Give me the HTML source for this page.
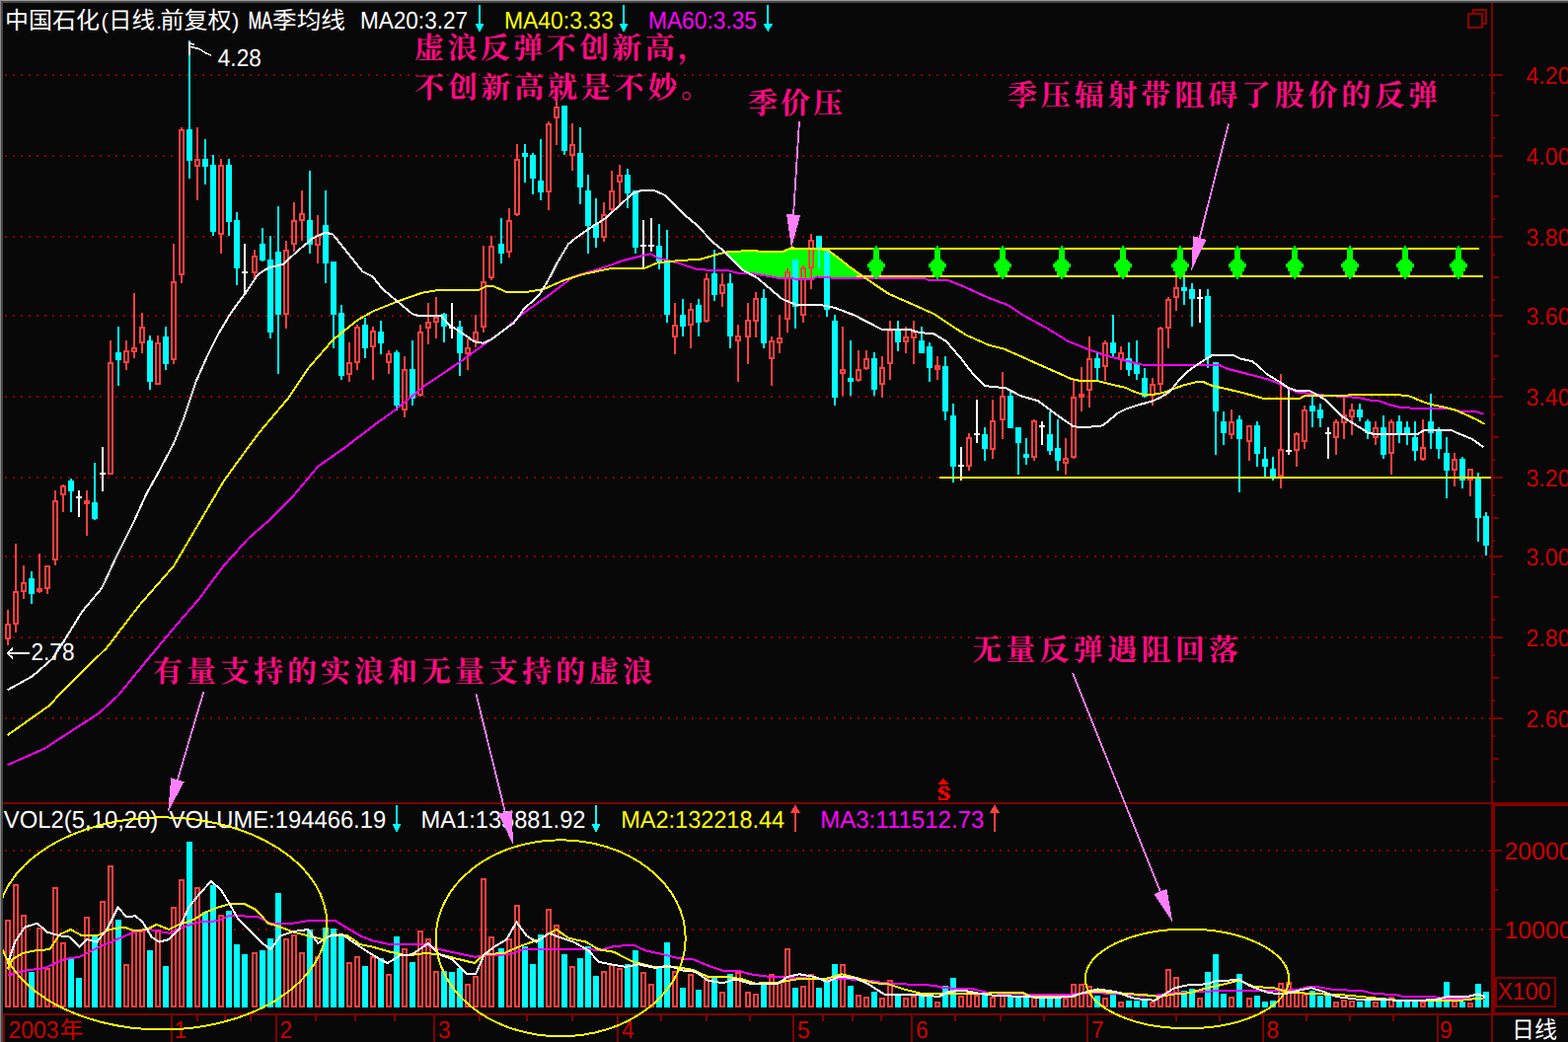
<!DOCTYPE html>
<html><head><meta charset="utf-8"><title>chart</title>
<style>html,body{margin:0;padding:0;background:#080808;overflow:hidden}svg{display:block}text{white-space:pre}</style>
</head><body><svg width="1589" height="1056" viewBox="0 0 1589 1056" shape-rendering="crispEdges" text-rendering="geometricPrecision"><rect width="1589" height="1056" fill="#080808"/>
<line x1="5" y1="76" x2="1511.1" y2="76" stroke="#8a0000" stroke-width="2" stroke-dasharray="2 6"/>
<line x1="5" y1="158" x2="1511.1" y2="158" stroke="#8a0000" stroke-width="2" stroke-dasharray="2 6"/>
<line x1="5" y1="240" x2="1511.1" y2="240" stroke="#8a0000" stroke-width="2" stroke-dasharray="2 6"/>
<line x1="5" y1="320" x2="1511.1" y2="320" stroke="#8a0000" stroke-width="2" stroke-dasharray="2 6"/>
<line x1="5" y1="402" x2="1511.1" y2="402" stroke="#8a0000" stroke-width="2" stroke-dasharray="2 6"/>
<line x1="5" y1="484" x2="1511.1" y2="484" stroke="#8a0000" stroke-width="2" stroke-dasharray="2 6"/>
<line x1="5" y1="564" x2="1511.1" y2="564" stroke="#8a0000" stroke-width="2" stroke-dasharray="2 6"/>
<line x1="5" y1="646" x2="1511.1" y2="646" stroke="#8a0000" stroke-width="2" stroke-dasharray="2 6"/>
<line x1="5" y1="728" x2="1511.1" y2="728" stroke="#8a0000" stroke-width="2" stroke-dasharray="2 6"/>
<line x1="5" y1="862.3" x2="1511.1" y2="862.3" stroke="#8a0000" stroke-width="2" stroke-dasharray="2 6"/>
<line x1="5" y1="942.2" x2="1511.1" y2="942.2" stroke="#8a0000" stroke-width="2" stroke-dasharray="2 6"/>
<path d="M29 984.8h6V1021.0h-6zM69 971h6V1021.0h-6zM77 991.1h6V1021.0h-6zM93 947.1h6V1021.0h-6zM117 931.5h6V1021.0h-6zM149 963.4h6V1021.0h-6zM165 979.3h6V1021.0h-6zM189 853.2h6V1021.0h-6zM205 924.4h6V1021.0h-6zM213 896.7h6V1021.0h-6zM229 923.2h6V1021.0h-6zM237 957.1h6V1021.0h-6zM245 967.2h6V1021.0h-6zM263 963.4h6V1021.0h-6zM271 950.8h6V1021.0h-6zM279 905h6V1021.0h-6zM311 942h6V1021.0h-6zM327 939.5h6V1021.0h-6zM335 941.3h6V1021.0h-6zM343 947.6h6V1021.0h-6zM367 979.3h6V1021.0h-6zM383 971h6V1021.0h-6zM399 949.1h6V1021.0h-6zM415 975.3h6V1021.0h-6zM447 983.6h6V1021.0h-6zM455 984.8h6V1021.0h-6zM463 981.1h6V1021.0h-6zM505 961.4h6V1021.0h-6zM529 959.2h6V1021.0h-6zM537 977.3h6V1021.0h-6zM545 947.1h6V1021.0h-6zM569 967.2h6V1021.0h-6zM585 971h6V1021.0h-6zM593 959.2h6V1021.0h-6zM601 989.4h6V1021.0h-6zM633 977.3h6V1021.0h-6zM641 963.4h6V1021.0h-6zM665 981.1h6V1021.0h-6zM673 955.1h6V1021.0h-6zM689 1001.2h6V1021.0h-6zM705 1003.2h6V1021.0h-6zM721 991.1h6V1021.0h-6zM737 987.3h6V1021.0h-6zM771 997.4h6V1021.0h-6zM803 1001.2h6V1021.0h-6zM827 1001.2h6V1021.0h-6zM835 991.1h6V1021.0h-6zM843 977.3h6V1021.0h-6zM859 998.7h6V1021.0h-6zM883 1005h6V1021.0h-6zM907 1008.7h6V1021.0h-6zM931 1008.7h6V1021.0h-6zM939 1010h6V1021.0h-6zM955 999.2h6V1021.0h-6zM963 991.1h6V1021.0h-6zM995 1005h6V1021.0h-6zM1021 1008.7h6V1021.0h-6zM1029 1008.7h6V1021.0h-6zM1037 1010h6V1021.0h-6zM1053 1011.3h6V1021.0h-6zM1061 1011.3h6V1021.0h-6zM1069 1011.3h6V1021.0h-6zM1109 1008.7h6V1021.0h-6zM1125 1007.5h6V1021.0h-6zM1141 1013.8h6V1021.0h-6zM1149 1013.8h6V1021.0h-6zM1157 1012.5h6V1021.0h-6zM1197 1003.7h6V1021.0h-6zM1205 1002h6V1021.0h-6zM1221 984.8h6V1021.0h-6zM1229 967.2h6V1021.0h-6zM1237 1007h6V1021.0h-6zM1253 987.3h6V1021.0h-6zM1271 1008.7h6V1021.0h-6zM1279 1015h6V1021.0h-6zM1287 1013.8h6V1021.0h-6zM1327 1003.7h6V1021.0h-6zM1335 1008.7h6V1021.0h-6zM1343 1008.7h6V1021.0h-6zM1375 1015h6V1021.0h-6zM1383 1012.5h6V1021.0h-6zM1399 1011.3h6V1021.0h-6zM1415 1012.5h6V1021.0h-6zM1423 1013.8h6V1021.0h-6zM1431 1013.8h6V1021.0h-6zM1447 1015h6V1021.0h-6zM1455 1013.8h6V1021.0h-6zM1463 995.4h6V1021.0h-6zM1479 1015h6V1021.0h-6zM1495 997.4h6V1021.0h-6zM1503 1005h6V1021.0h-6z" fill="#00ffff"/>
<path d="M6 932.5h4V1020.0h-4zM14 896.5h4V1020.0h-4zM22 928.4h4V1020.0h-4zM38 940.5h4V1020.0h-4zM46 982.1h4V1020.0h-4zM54 900.2h4V1020.0h-4zM62 956.1h4V1020.0h-4zM86 929.9h4V1020.0h-4zM102 914.1h4V1020.0h-4zM110 878.3h4V1020.0h-4zM126 978.3h4V1020.0h-4zM134 943h4V1020.0h-4zM142 944.3h4V1020.0h-4zM158 943h4V1020.0h-4zM174 920.4h4V1020.0h-4zM182 892.2h4V1020.0h-4zM198 900.2h4V1020.0h-4zM222 928.4h4V1020.0h-4zM256 966.2h4V1020.0h-4zM288 952.4h4V1020.0h-4zM296 948.1h4V1020.0h-4zM304 966.2h4V1020.0h-4zM320 970.2h4V1020.0h-4zM352 976.3h4V1020.0h-4zM360 970.2h4V1020.0h-4zM376 970.2h4V1020.0h-4zM392 988.3h4V1020.0h-4zM408 962.4h4V1020.0h-4zM424 944.3h4V1020.0h-4zM432 952.4h4V1020.0h-4zM440 984.6h4V1020.0h-4zM472 998.4h4V1020.0h-4zM480 990.4h4V1020.0h-4zM488 890.7h4V1020.0h-4zM496 950.1h4V1020.0h-4zM514 952.4h4V1020.0h-4zM522 918.4h4V1020.0h-4zM554 922.4h4V1020.0h-4zM562 938h4V1020.0h-4zM578 980.3h4V1020.0h-4zM610 984.6h4V1020.0h-4zM618 978.3h4V1020.0h-4zM626 982.1h4V1020.0h-4zM650 986.3h4V1020.0h-4zM658 998.4h4V1020.0h-4zM682 984.6h4V1020.0h-4zM698 988.3h4V1020.0h-4zM714 992.1h4V1020.0h-4zM730 1006h4V1020.0h-4zM746 985.8h4V1020.0h-4zM756 1006h4V1020.0h-4zM764 1008h4V1020.0h-4zM780 988.3h4V1020.0h-4zM788 995.9h4V1020.0h-4zM796 962.4h4V1020.0h-4zM812 999.7h4V1020.0h-4zM820 988.3h4V1020.0h-4zM852 978.3h4V1020.0h-4zM868 1008.5h4V1020.0h-4zM876 1010.5h4V1020.0h-4zM892 1012.3h4V1020.0h-4zM900 994.1h4V1020.0h-4zM916 1012.3h4V1020.0h-4zM924 1009.7h4V1020.0h-4zM948 1016h4V1020.0h-4zM972 1009.7h4V1020.0h-4zM980 1004.7h4V1020.0h-4zM988 1008.5h4V1020.0h-4zM1004 1010.5h4V1020.0h-4zM1014 1008.5h4V1020.0h-4zM1046 1009.7h4V1020.0h-4zM1078 1012.3h4V1020.0h-4zM1086 998.4h4V1020.0h-4zM1094 998.4h4V1020.0h-4zM1102 1000.2h4V1020.0h-4zM1118 1012.3h4V1020.0h-4zM1134 1016h4V1020.0h-4zM1166 1016h4V1020.0h-4zM1174 1009.7h4V1020.0h-4zM1182 982.6h4V1020.0h-4zM1190 990.9h4V1020.0h-4zM1214 1012.3h4V1020.0h-4zM1246 1010.5h4V1020.0h-4zM1264 1012.3h4V1020.0h-4zM1296 997.2h4V1020.0h-4zM1304 996.4h4V1020.0h-4zM1312 1006h4V1020.0h-4zM1320 1008h4V1020.0h-4zM1352 1016h4V1020.0h-4zM1360 1013.5h4V1020.0h-4zM1368 1014.8h4V1020.0h-4zM1392 1016h4V1020.0h-4zM1408 1010.5h4V1020.0h-4zM1440 1016h4V1020.0h-4zM1472 1014.8h4V1020.0h-4zM1488 1017.3h4V1020.0h-4z" fill="none" stroke="#ff4040" stroke-width="2"/>
<polyline points="7.6,988.6 25.2,983.6 45.3,981.1 65.4,972.2 80.6,969.7 100.7,959.7 118.3,952.1 135.9,944.6 151,942 171.2,945.8 186.3,939.5 201.4,934.5 221.5,933.2 231.6,928.2 244.2,928.2 261.8,929.5 274.4,935.7 297,935.7 312.1,933.2 339.8,933.2 352.4,940.8 365,948.3 377.6,953.4 395.1,957.1 430.3,957.1 445.4,962.2 463.1,966 480.7,969.7 493.3,968.5 515.9,967.2 531,962.2 596.5,961.7 606.6,963.4 621.7,959.2 641.8,957.6 654.4,963.4 672,967.2 687.1,971 702.2,972.2 717.3,978.5 732.4,983.6 750,984.3 760.1,987.3 770.1,988.6 780.1,989.9 810.3,991.1 835.5,992.4 860.7,992.4 880.8,993.6 895.9,996.2 916.1,997.4 946.3,998.7 956.3,1001.2 986.6,1002.5 1001.7,1006.2 1036.9,1007.5 1087.2,1007.5 1112.4,1006.2 1137.6,1007.5 1155.1,1008.7 1170.2,1008.7 1190.3,1006.2 1220.6,1005 1240.7,1003.7 1296.1,1003.7 1316.2,1002.5 1326.3,999.9 1333.8,999.9 1348.9,1002.5 1381.7,1004.5 1391.7,1007 1414.4,1008 1421.9,1010 1454.7,1010.5 1464.7,1012.5 1505,1012" fill="none" stroke="#ff00ff" stroke-width="2" stroke-linejoin="round"/>
<polyline points="7.6,982.3 12.6,972.2 22.7,966 35.2,963.4 50.3,962.2 60.4,947.1 71.7,942 83.1,948.3 98.2,948.3 110.8,942 125.9,939.5 135.9,943.3 148.5,942 158.6,937 171.2,942 181.2,937 196.3,932 208.9,924.4 221.5,919.4 234.1,915.6 246.7,915.6 259.3,921.9 271.9,935.7 284.5,939.5 297,944.6 312.1,948.3 327.2,952.1 337.3,947.1 352.4,948.3 365,957.1 377.6,959.7 395.1,964.7 412.7,968.5 430.3,966 445.4,967.2 463.1,971.7 480.7,976 490.8,967.2 510.9,966 528.5,958.4 546.1,952.1 563.8,942 576.3,950.8 594,954.6 606.6,962.2 621.7,964.7 641.8,974.8 661.9,979.8 682.1,979.8 702.2,982.8 717.3,989.9 737.5,989.9 752.6,992.4 767.7,997.4 770.1,996.2 785.2,996.2 807.8,992.4 835.5,992.4 853.1,987.3 868.2,991.1 885.9,996.2 901,997.4 916.1,1002.5 936.2,1007.5 961.4,1007 986.6,1007 1011.7,1006.2 1036.9,1006.2 1044.5,1010 1087.2,1010 1097.3,1006.2 1112.4,1005 1132.6,1006.2 1155.1,1008 1165.2,1008.7 1175.2,1010 1190.3,1007.5 1205.4,1006.2 1223.1,1001.2 1240.7,997.4 1255.8,993.6 1270.9,999.9 1291,1001.2 1303.6,1005 1316.2,1006.2 1341.4,1007.5 1366.6,1008.7 1391.7,1011.3 1416.9,1013.8 1454.7,1013.8 1479.8,1013.8 1492.4,1012.5 1505,1011.3" fill="none" stroke="#ffff00" stroke-width="2" stroke-linejoin="round"/>
<polyline points="7.6,977.3 15.1,954.6 25.2,939.5 37.8,935.7 47.8,944.6 60.4,948.3 70.5,949.6 80.6,959.7 88.1,952.1 98.2,954.6 108.2,942 119.6,919.4 128.4,929.5 137.2,928.2 144.7,934.5 153.6,949.6 161.1,954.6 171.2,952.1 181.2,942 191.3,919.4 201.4,906.8 214,893 224,901.8 231.6,914.3 241.7,932 251.7,942 264.3,954.6 274.4,962.2 284.5,948.3 297,944.1 312.1,942 322.2,955.9 334.8,948.3 347.4,947.1 357.5,954.6 372.6,964.7 385.1,972.2 392.6,976 405.2,968.5 417.8,967.2 434.1,955.9 445.4,967.2 458,972.2 473.1,986.8 482,987.3 490.8,967.2 500.8,959.7 513.4,952.1 523.5,934.5 533.6,948.3 543.6,954.6 556.2,945.8 566.3,949.6 581.4,954.6 596.5,963.4 606.6,974.8 619.1,977.3 634.2,979.8 646.8,977.3 664.5,981.1 677,978.5 692.1,983.6 704.7,984.8 717.3,993.6 732.4,996.2 745,992.4 762.6,997.4 770.1,997.4 787.7,997.4 797.8,989.9 810.3,987.3 825.4,989.9 838,994.9 850.6,989.9 865.7,991.1 878.3,996.2 895.9,1007.5 916.1,1007.5 936.2,1008.7 951.3,1010 961.4,1005 976.5,1003.7 989.1,1006.2 1006.7,1008.7 1036.9,1010 1062.1,1011.3 1084.7,1010 1097.3,1006.2 1112.4,1002.5 1130,1005 1147.7,1011.3 1155.1,1012.5 1170.2,1013.8 1180.3,1007.5 1190.3,1001.2 1205.4,997.9 1223.1,997.4 1233.1,993.6 1245.7,993.6 1255.8,992.4 1265.9,998.7 1275.9,1002.5 1286,1006.2 1301.1,1007.5 1316.2,1003.7 1328.8,1001.2 1341.4,1005 1354,1010 1374.1,1012.5 1391.7,1012.5 1416.9,1013.8 1442.1,1013.8 1457.2,1012.5 1467.2,1010 1487.4,1010 1497.5,1007.5 1505,1010" fill="none" stroke="#ffffff" stroke-width="2" stroke-linejoin="round"/>
<polygon points="736,255.6 737.5,255.2 739,255.1 740.5,255 742,255 743.5,254.9 745,254.8 746.5,254.7 748,254.7 749.5,254.6 751,254.5 752.5,254.4 754,254.3 755.5,254.3 757,254.2 758.5,254.1 760,254 761.5,254 763,253.9 764.5,254.1 766,254.3 767.5,254.5 769,254.7 770.5,254.9 772,255.1 773.5,255.1 775,255.1 776.5,255.1 778,255.1 779.5,255.1 781,255.1 782.5,255.1 784,255.2 785.5,255.2 787,255.2 788.5,255.2 790,255.2 791.5,255.2 793,255.1 794.5,254.4 796,253.8 797.5,253.1 799,252.5 800.5,251.8 802,251.4 803.5,251.5 805,251.5 806.5,251.6 808,251.6 809.5,251.7 811,251.7 812.5,251.8 814,251.8 815.5,251.9 817,252 818.5,252 820,252.1 821.5,252.1 823,252.2 824.5,252.2 826,252.3 827.5,252.3 829,252.4 830.5,252.4 832,252.5 833.5,252.5 835,252.6 836.5,252.6 838,252.7 839.5,253.8 841,254.9 842.5,256 844,257.2 845.5,258.3 847,259.4 848.5,260.5 850,261.7 851.5,262.9 853,264.1 854.5,265.3 856,266.5 857.5,267.7 859,268.9 860.5,270.1 862,271.2 863.5,272.3 865,273.3 866.5,274.4 868,275.4 869.5,276.4 871,277.5 872.5,278.5 874,279.6 875.5,280.6 875.5,281.6 874,281.6 872.5,281.6 871,281.6 869.5,281.6 868,281.6 866.5,281.6 865,281.6 863.5,281.6 862,281.6 860.5,281.6 859,281.6 857.5,281.6 856,281.6 854.5,281.6 853,281.6 851.5,281.6 850,281.6 848.5,281.6 847,281.6 845.5,281.6 844,281.6 842.5,281.6 841,281.4 839.5,281.3 838,281.2 836.5,281.1 835,281 833.5,280.8 832,280.7 830.5,280.6 829,280.5 827.5,280.7 826,281.6 824.5,282.5 823,283.3 821.5,283.3 820,283.3 818.5,283.2 817,283.1 815.5,283 814,282.9 812.5,282.9 811,282.8 809.5,282.7 808,282.6 806.5,282.6 805,282.5 803.5,282.4 802,282.3 800.5,282.3 799,282.2 797.5,282.1 796,282 794.5,281.9 793,281.9 791.5,281.8 790,281.7 788.5,281.6 787,281.5 785.5,281.2 784,280.9 782.5,280.7 781,280.4 779.5,280.1 778,279.8 776.5,279.6 775,279.3 773.5,279 772,278.8 770.5,278.5 769,278.2 767.5,278 766,277.7 764.5,277.4 763,277.1 761.5,276.9 760,276.6 758.5,276.6 757,276.1 755.5,275.3 754,274.5 752.5,273.7 751,272.3 749.5,270.8 748,269.2 746.5,267.6 745,266.1 743.5,264.5 742,262.9 740.5,261.4 739,259.8 737.5,258.2 736,256.7" fill="#00ff00"/>
<path d="M7 617.5h2V631.8h-2zM7 647.7h2V654h-2zM15 550.8h2V599.1h-2zM15 632.6h2V640.6h-2zM23 573.4h2V589.8h-2zM23 599.8h2V606.6h-2zM39 561.3h2V596.1h-2zM39 600.4h2V601.1h-2zM47 572.9h2V573.4h-2zM47 596.6h2V602.4h-2zM55 497.4h2V507.2h-2zM55 568.4h2V572.7h-2zM63 491.1h2V491.6h-2zM63 501.7h2V518.5h-2zM111 345.3h2V367.2h-2zM111 480.5h2V480.5h-2zM127 345.3h2V355.1h-2zM127 367.9h2V374.7h-2zM135 297.2h2V351.6h-2zM135 356.6h2V362.7h-2zM143 317.4h2V331.4h-2zM143 348.3h2V358.4h-2zM159 339.5h2V347.1h-2zM159 390.4h2V390.4h-2zM175 247h2V285.4h-2zM175 364.7h2V368.5h-2zM183 129.4h2V130.7h-2zM183 278.7h2V286.8h-2zM199 129.4h2V161.4h-2zM199 168.5h2V202.9h-2zM223 160.9h2V167.2h-2zM223 238.4h2V256.6h-2zM257 253.3h2V259.1h-2zM257 276.7h2V284.2h-2zM289 243.5h2V253.3h-2zM289 318.6h2V332.7h-2zM297 205h2V223.3h-2zM297 247.7h2V255.3h-2zM305 193.1h2V215.5h-2zM305 223.8h2V244h-2zM321 217.5h2V238.4h-2zM321 248.5h2V266.6h-2zM353 347.1h2V367.2h-2zM353 380.3h2V386.6h-2zM361 329.4h2V330.7h-2zM361 367.9h2V374.7h-2zM377 331.4h2V335h-2zM377 352.1h2V384.8h-2zM393 354.6h2V357.9h-2zM393 367.9h2V378.5h-2zM409 360.9h2V373.5h-2zM409 415.8h2V422.6h-2zM425 329.4h2V335.7h-2zM425 401.2h2V402.4h-2zM433 307.3h2V325.7h-2zM433 332.7h2V348.8h-2zM441 301.2h2V321.1h-2zM441 326.9h2V342.8h-2zM473 342.8h2V351.6h-2zM473 359.1h2V374.7h-2zM481 318.9h2V335.7h-2zM481 345.8h2V352.1h-2zM489 249h2V285.4h-2zM489 332h2V336.5h-2zM497 239.2h2V249.3h-2zM497 282h2V284h-2zM515 211h2V223.1h-2zM515 256.3h2V260.6h-2zM523 145.6h2V161.2h-2zM523 218.1h2V218.6h-2zM555 122.9h2V124.9h-2zM555 194.7h2V213.1h-2zM563 97.8h2V107.8h-2zM563 120.4h2V146.8h-2zM579 124.9h2V145.6h-2zM579 158.2h2V172.8h-2zM611 205.2h2V217.3h-2zM611 240.7h2V245h-2zM619 173.3h2V193.4h-2zM619 212.8h2V213.6h-2zM627 167h2V177.1h-2zM627 185.1h2V208.5h-2zM683 307.3h2V329.4h-2zM683 341.5h2V358.9h-2zM699 307.3h2V313.1h-2zM699 330.2h2V352.8h-2zM715 277.3h2V281.6h-2zM715 326.4h2V326.9h-2zM731 277.3h2V287.9h-2zM731 298h2V310.6h-2zM747 329.4h2V339.5h-2zM747 346.3h2V386.6h-2zM757 307.3h2V323.6h-2zM757 342h2V368.5h-2zM765 296.2h2V301.8h-2zM765 325.7h2V342.1h-2zM781 340.8h2V345.3h-2zM781 364h2V390.6h-2zM789 319.4h2V342.1h-2zM789 348.3h2V358.4h-2zM797 271.6h2V275.3h-2zM797 324.4h2V337h-2zM813 269.1h2V271.1h-2zM813 320.2h2V327h-2zM821 237.1h2V243.1h-2zM821 271.6h2V292.5h-2zM853 331.2h2V373.5h-2zM853 378.6h2V401.2h-2zM869 355.4h2V373.5h-2zM869 386.1h2V387.4h-2zM877 355.4h2V362.9h-2zM877 374h2V375.3h-2zM893 361.4h2V371.5h-2zM893 390.4h2V402.5h-2zM901 325.2h2V333.7h-2zM901 368.5h2V384.8h-2zM917 331.2h2V341.3h-2zM917 346.6h2V358.4h-2zM925 325.2h2V335.8h-2zM925 342.6h2V368.5h-2zM981 439h2V443.3h-2zM981 473h2V476.7h-2zM1005 405h2V425.6h-2zM1005 455.8h2V464.6h-2zM1015 377.3h2V401.2h-2zM1015 425.6h2V444.5h-2zM1047 425.1h2V426.4h-2zM1047 464.1h2V466.7h-2zM1079 443.5h2V463.6h-2zM1079 470.4h2V480.5h-2zM1087 384.8h2V401.7h-2zM1087 464.1h2V464.6h-2zM1095 371.5h2V398.7h-2zM1095 402.7h2V416.8h-2zM1103 341.3h2V362.9h-2zM1103 396.2h2V412.5h-2zM1119 345.3h2V347.1h-2zM1119 372.3h2V386.1h-2zM1135 351.4h2V357.2h-2zM1135 364.7h2V374.8h-2zM1167 383h2V388.5h-2zM1167 401.1h2V410.7h-2zM1175 331.1h2V331.9h-2zM1175 390.3h2V397.3h-2zM1183 301.2h2V302.9h-2zM1183 332.6h2V352.8h-2zM1191 280.3h2V291.1h-2zM1191 301.7h2V314.8h-2zM1247 415h2V426.8h-2zM1247 440.6h2V445.2h-2zM1265 431.3h2V431.3h-2zM1265 448.2h2V467.1h-2zM1297 379h2V455.2h-2zM1297 482.9h2V494.8h-2zM1313 437.6h2V438.9h-2zM1313 456.5h2V472.9h-2zM1321 411.2h2V415h-2zM1321 448.4h2V454.7h-2zM1353 425h2V426.8h-2zM1353 444.4h2V461h-2zM1361 403.1h2V420h-2zM1361 428.8h2V445.2h-2zM1369 409.2h2V415h-2zM1369 422.5h2V440.9h-2zM1393 426.8h2V433.3h-2zM1393 444.4h2V451h-2zM1409 425h2V426.8h-2zM1409 460.3h2V480.9h-2zM1441 425h2V453.2h-2zM1441 466.1h2V466.6h-2zM1473 458.9h2V465.2h-2zM1473 476.9h2V492.9h-2zM1489 475h2V475.2h-2zM1489 486.6h2V502.9h-2zM87 497.4h2V542.5h-2zM85 506.7h6V510.5h-6zM949 361.4h2V384.8h-2zM947 369.7h6V374.8h-6z" fill="#ff4040"/>
<path d="M6 632.8h4V646.7h-4zM14 600.1h4V631.6h-4zM22 590.8h4V598.8h-4zM38 597.1h4V599.4h-4zM46 574.4h4V595.6h-4zM54 508.2h4V567.4h-4zM62 492.6h4V500.7h-4zM110 368.2h4V479.5h-4zM126 356.1h4V366.9h-4zM134 352.6h4V355.6h-4zM142 332.4h4V347.3h-4zM158 348.1h4V389.4h-4zM174 286.4h4V363.7h-4zM182 131.7h4V277.7h-4zM198 162.4h4V167.5h-4zM222 168.2h4V237.4h-4zM256 260.1h4V275.7h-4zM288 254.3h4V317.6h-4zM296 224.3h4V246.7h-4zM304 216.5h4V222.8h-4zM320 239.4h4V247.5h-4zM352 368.2h4V379.3h-4zM360 331.7h4V366.9h-4zM376 336h4V351.1h-4zM392 358.9h4V366.9h-4zM408 374.5h4V414.8h-4zM424 336.7h4V400.2h-4zM432 326.7h4V331.7h-4zM440 322.1h4V325.9h-4zM472 352.6h4V358.1h-4zM480 336.7h4V344.8h-4zM488 286.4h4V331h-4zM496 250.3h4V281h-4zM514 224.1h4V255.3h-4zM522 162.2h4V217.1h-4zM554 125.9h4V193.7h-4zM562 108.8h4V119.4h-4zM578 146.6h4V157.2h-4zM610 218.3h4V239.7h-4zM618 194.4h4V211.8h-4zM626 178.1h4V184.1h-4zM682 330.4h4V340.5h-4zM698 314.1h4V329.2h-4zM714 282.6h4V325.4h-4zM730 288.9h4V297h-4zM746 340.5h4V345.3h-4zM756 324.6h4V341h-4zM764 302.8h4V324.7h-4zM780 346.3h4V363h-4zM788 343.1h4V347.3h-4zM796 276.3h4V323.4h-4zM812 272.1h4V319.2h-4zM820 244.1h4V270.6h-4zM852 374.5h4V377.6h-4zM868 374.5h4V385.1h-4zM876 363.9h4V373h-4zM892 372.5h4V389.4h-4zM900 334.7h4V367.5h-4zM916 342.3h4V345.6h-4zM924 336.8h4V341.6h-4zM980 444.3h4V472h-4zM1004 426.6h4V454.8h-4zM1014 402.2h4V424.6h-4zM1046 427.4h4V463.1h-4zM1078 464.6h4V469.4h-4zM1086 402.7h4V463.1h-4zM1094 399.7h4V401.7h-4zM1102 363.9h4V395.2h-4zM1118 348.1h4V371.3h-4zM1134 358.2h4V363.7h-4zM1166 389.5h4V400.1h-4zM1174 332.9h4V389.3h-4zM1182 303.9h4V331.6h-4zM1190 292.1h4V300.7h-4zM1246 427.8h4V439.6h-4zM1264 432.3h4V447.2h-4zM1296 456.2h4V481.9h-4zM1312 439.9h4V455.5h-4zM1320 416h4V447.4h-4zM1352 427.8h4V443.4h-4zM1360 421h4V427.8h-4zM1368 416h4V421.5h-4zM1392 434.3h4V443.4h-4zM1408 427.8h4V459.3h-4zM1440 454.2h4V465.1h-4zM1472 466.2h4V475.9h-4zM1488 476.2h4V485.6h-4z" fill="none" stroke="#ff4040" stroke-width="2"/>
<path d="M31 579.2h2V612.4h-2zM29 585.5h6V602.4h-6zM71 484.8h2V518.5h-2zM69 486.6h6V498.4h-6zM95 468.9h2V526.8h-2zM93 509.2h6V526.3h-6zM119 331.2h2V390.6h-2zM117 357.1h6V364.7h-6zM151 339.5h2V394.9h-2zM149 345h6V386.6h-6zM167 331.4h2V374.7h-2zM165 340.8h6V368.5h-6zM191 41.3h2V181h-2zM189 130.7h6V162.7h-6zM207 140.8h2V186.6h-2zM205 160.9h6V168.5h-6zM215 157.1h2V238.9h-2zM213 167.2h6V235.2h-6zM231 160.9h2V238.9h-2zM229 167.2h6V224.6h-6zM239 215h2V288.8h-2zM237 223.3h6V272.4h-6zM265 231.4h2V265.4h-2zM263 247h6V264.1h-6zM273 239h2V342.8h-2zM271 262.9h6V337h-6zM281 209.2h2V378.5h-2zM279 255.3h6V318.6h-6zM313 173h2V256.6h-2zM311 223.3h6V247.7h-6zM329 193.1h2V286.8h-2zM327 227.6h6V266.6h-6zM337 265.4h2V352.6h-2zM335 265.4h6V318.6h-6zM345 309.3h2V384.8h-2zM343 316.8h6V380.5h-6zM369 321.9h2V362.7h-2zM367 329.4h6V352.6h-6zM385 325.2h2V358.9h-2zM383 335.7h6V348.3h-6zM401 354.6h2V416.3h-2zM399 357.1h6V410.7h-6zM417 345.3h2V410.7h-2zM415 373.5h6V403.7h-6zM449 316.8h2V347.1h-2zM447 318.1h6V330.7h-6zM465 325.2h2V381h-2zM463 331.2h6V358.4h-6zM507 221.1h2V266.9h-2zM505 246.8h6V256.9h-6zM531 145.6h2V184.6h-2zM529 155.2h6V158.7h-6zM539 155.2h2V197.2h-2zM537 156.9h6V180.8h-6zM547 141.1h2V203h-2zM545 183.3h6V195.2h-6zM571 106.6h2V156.9h-2zM569 107.3h6V152.6h-6zM587 129.2h2V206.8h-2zM585 155.2h6V190.4h-6zM595 177.1h2V256.9h-2zM593 193.4h6V228.7h-6zM603 201h2V250.8h-2zM601 227.4h6V240.7h-6zM635 170.8h2V211h-2zM633 177.1h6V195.9h-6zM643 193.4h2V256.9h-2zM641 193.4h6V250.8h-6zM667 226.9h2V272.7h-2zM665 249.3h6V265.2h-6zM675 233.2h2V326.9h-2zM673 263.4h6V318.6h-6zM691 303h2V340.8h-2zM689 318.6h6V330.7h-6zM707 303h2V340.8h-2zM705 309.3h6V326.9h-6zM723 253.2h2V304.8h-2zM721 277.3h6V298.5h-6zM739 277.3h2V352.8h-2zM737 287.4h6V340.8h-6zM773 292.5h2V352.9h-2zM771 301.8h6V348.3h-6zM805 262.8h2V332.7h-2zM803 263.3h6V310.6h-6zM829 238.8h2V272.8h-2zM827 238.8h6V252.7h-6zM837 251.4h2V320.7h-2zM835 255.2h6V314.4h-6zM845 319.4h2V410.8h-2zM843 325.2h6V402.5h-6zM861 345.3h2V401.2h-2zM859 383.1h6V386.6h-6zM885 357.2h2V401.2h-2zM883 362.9h6V394.9h-6zM909 325.2h2V356.4h-2zM907 333.2h6V347.1h-6zM933 331.2h2V358.4h-2zM931 345.3h6V358.4h-6zM941 347.1h2V386.6h-2zM939 351.4h6V373h-6zM957 361.4h2V426.4h-2zM955 371h6V416.8h-6zM965 409.3h2V488.8h-2zM963 420.8h6V473h-6zM997 433.2h2V466.7h-2zM995 439.5h6V454.8h-6zM1023 396.2h2V434.4h-2zM1021 401.2h6V434.4h-6zM1031 433.4h2V480.5h-2zM1029 433.4h6V448.5h-6zM1039 443.5h2V470.9h-2zM1037 459.6h6V464.1h-6zM1063 416.8h2V460.9h-2zM1061 439.5h6V456.6h-6zM1071 425.1h2V476.7h-2zM1069 453.6h6V466.7h-6zM1111 355.9h2V384.8h-2zM1109 362.9h6V372.8h-6zM1127 319.4h2V360.9h-2zM1125 347.1h6V358.4h-6zM1143 347h2V381h-2zM1141 363.3h6V374.7h-6zM1151 345.2h2V384.7h-2zM1149 368.4h6V378.5h-6zM1159 373.4h2V403.1h-2zM1157 383h6V402.4h-6zM1199 280.3h2V308.5h-2zM1197 291.1h6V294.6h-6zM1207 287.1h2V330.6h-2zM1205 292.9h6V302.9h-6zM1223 292.9h2V372.9h-2zM1221 300.4h6V363.3h-6zM1231 367.1h2V461h-2zM1229 367.1h6V417h-6zM1239 417h2V451h-2zM1237 426.8h6V438.9h-6zM1255 420.7h2V499.3h-2zM1253 425h6V445.2h-6zM1273 426.8h2V472.9h-2zM1271 431.3h6V460.3h-6zM1281 453.2h2V482.9h-2zM1279 465.3h6V472.9h-6zM1289 462.8h2V487.2h-2zM1287 475.4h6V483.7h-6zM1329 401.1h2V432.6h-2zM1327 411.2h6V417h-6zM1337 409.2h2V432.6h-2zM1335 415h6V423.8h-6zM1377 409.2h2V426.8h-2zM1375 415h6V423h-6zM1385 425h2V445.2h-2zM1383 426.8h6V438.9h-6zM1401 420.7h2V464.8h-2zM1399 433.3h6V461h-6zM1417 420.7h2V448.9h-2zM1415 426.8h6V440.9h-6zM1425 426.8h2V451h-2zM1423 433.3h6V440.9h-6zM1433 426.8h2V467.1h-2zM1431 442.6h6V457h-6zM1449 399.1h2V454.7h-2zM1447 426.8h6V438.9h-6zM1457 433.3h2V464.8h-2zM1455 436.9h6V455.2h-6zM1465 443.1h2V504.8h-2zM1463 458.9h6V477.1h-6zM1481 463.3h2V494.8h-2zM1479 465.2h6V486.8h-6zM1497 479h2V548.9h-2zM1495 484.1h6V525h-6zM1505 519h2V562.7h-2zM1503 522.8h6V552.9h-6z" fill="#00ffff"/>
<path d="M79 497.4h2V524.3h-2zM77 503.2h6v2h-6zM103 453.1h2V498.4h-2zM101 478.8h6v2h-6zM247 247h2V298h-2zM245 274.7h6v2h-6zM457 307.3h2V342.8h-2zM455 331h6v2h-6zM651 223.1h2V271h-2zM649 248.3h6v2h-6zM659 221.1h2V255.1h-2zM657 248.3h6v2h-6zM973 453.3h2V486.8h-2zM971 471.2h6v2h-6zM989 405h2V449h-2zM987 439.2h6v2h-6zM1055 427.1h2V450.8h-2zM1053 430.9h6v2h-6zM1215 292.9h2V326.8h-2zM1213 300.7h6v2h-6zM1305 393.6h2V461h-2zM1303 455.5h6v2h-6zM1345 433.3h2V464.8h-2zM1343 437.9h6v2h-6z" fill="#ffffff"/>
<line x1="801" y1="252" x2="1499" y2="252" stroke="#ffff00" stroke-width="2.2"/>
<line x1="868" y1="279.9" x2="1503" y2="279.9" stroke="#ffff00" stroke-width="2.2"/>
<line x1="952" y1="483.8" x2="1512.1" y2="483.8" stroke="#ffff00" stroke-width="2.2"/>
<polyline points="7.6,775.2 45.3,758.6 100.7,722.4 119.6,705 151,666.6 176.2,636.4 201.4,607.4 226.6,573.4 251.7,545.7 271.9,528.1 297,502.9 322.2,472.7 347.4,455.1 367.5,440 380,430.1 400.1,415.8 430.3,391.1 465.6,367.2 488.2,350.8 510.9,334.5 531,316.8 556.2,299.2 581.4,280.3 606.6,272.8 631.7,264 651.9,258.9 659.4,257.2 667,261.5 687.1,266.5 707.2,273.3 737.5,274.1 747.5,276.6 760,276.6 787.7,281.6 822.9,283.4 828,280.4 843.1,281.6 936.2,281.6 941.2,284.2 961.4,284.2 976.5,290.4 1001.7,301.8 1021.8,309.3 1036.9,319.4 1062.1,333.2 1082.2,345.8 1102.4,353.9 1122.5,360.9 1140,365.4 1149.6,367.8 1156.7,369.5 1235.7,370.2 1245.2,374.2 1259.6,377.8 1273.9,381.4 1288.3,385.5 1302.6,391.7 1314.6,397.4 1331.3,399.4 1350.4,401.3 1376.8,402.9 1386.3,405.3 1398.3,406.5 1407.8,410.1 1417.4,412.5 1431.8,413.7 1470,414.2 1479.6,416.6 1493.9,416.6 1503.5,419.7" fill="none" stroke="#ff00ff" stroke-width="2" stroke-linejoin="round"/>
<polyline points="7.6,745 50.4,714.8 59.2,705 93.1,671.1 108.2,656.5 141,613.7 176.2,573.4 201.4,530.6 226.6,487.8 241.7,466.6 264.3,436.4 292,403.7 312.1,373.5 337.3,344.5 362.5,324.4 377.6,315.6 402.7,305.5 427.8,296.7 445.4,293.7 485.7,293.7 493.3,289.7 500.8,290.4 513.4,296 533.6,296 551.2,292.9 571.3,284.1 591.5,277.8 621.7,271.5 654.4,271.5 667,266 689.6,264 709.8,262.7 727.4,257.7 737.5,255.2 762.6,253.9 772.3,255.1 792.7,255.2 801.5,251.4 838,252.7 848.1,260.2 860.7,270.3 873.3,279.1 885.9,287.9 901,298 921.1,306.8 946.3,318.1 961.4,328.2 979,339.5 1001.7,349.6 1016.8,353.4 1036.9,362.2 1062.1,373.5 1084.7,383.6 1094.8,386.1 1112.4,386.1 1132.6,391.1 1140,392.7 1149.6,397 1157.9,399.8 1168.7,399.8 1178.3,398.2 1187.8,394.6 1199.8,390.3 1211.7,387.4 1220.1,387.4 1228.5,391 1242.8,394.1 1259.6,398.2 1271.5,401.3 1281.1,404.1 1317,404.1 1321.7,401.3 1364.8,401.3 1367.2,399.8 1415,399.8 1429.4,401.7 1438.9,406 1450.9,410.1 1462.8,412.5 1474.8,415.6 1484.4,419.7 1496.3,425.2 1504.7,430" fill="none" stroke="#ffff00" stroke-width="2" stroke-linejoin="round"/>
<polyline points="7.5,699.3 32.7,685.4 52.9,667.8 65.4,648.9 83,620 103.2,596 118.3,563.3 136,528 148.5,500.4 161,477.8 176.2,449 186.3,423.8 198.9,386 208.9,363.4 221.5,338.2 234.1,316.8 248,298 261.8,277.8 271.9,271.5 287,267.8 302,253.9 317.2,241.3 329.8,235.5 337.3,237.6 347.4,250.1 367.5,275.3 377.6,280.3 387.7,292.9 402.7,305.5 417.8,318.1 424,319.9 446.7,319.9 455.5,329.4 465.6,335.7 480.7,346.3 489.5,347.8 498.3,343.8 521,326.9 531,313.1 546.1,299.2 556.2,282.9 563.8,267.8 575.9,247.5 583.5,241.2 596.1,232.4 613.7,221.1 628.8,207.3 641.4,195.9 648.9,193.4 664,193.4 674.1,198 691.7,216.1 706.8,228.7 721.9,245 734.5,255.1 752.1,273.5 767.2,281.5 792.4,302.9 807.5,309.2 833,309.3 845.6,311.8 865.7,319.4 893.4,333.7 921.1,333.7 931.2,337 946.3,338.3 958.9,345.8 974,363.4 986.6,379.8 997.9,391.1 1019.3,393.2 1034.4,401.2 1052,406.2 1072.1,421.3 1087.3,431.9 1097.3,433.4 1117.5,431.4 1132.6,418.8 1140,414.9 1154.3,410.1 1166.3,407 1175.9,402.9 1185.4,397 1195,385 1203.4,376.6 1211.7,370.7 1218.9,365.9 1228.5,359.9 1250,359.9 1257.2,363.5 1269.1,366.3 1276.3,371.9 1283.5,379 1295.4,386.2 1305,392.7 1313.4,395.8 1326.5,395.8 1333.7,399.4 1343.3,405.3 1350.4,412.5 1360,422.1 1369.6,428 1379.1,434 1386.3,438.8 1393.5,440 1436.5,440 1443.7,435.7 1470,435.7 1479.6,440 1491.5,444.8 1503.5,453.2" fill="none" stroke="#ffffff" stroke-width="2" stroke-linejoin="round"/>
<path d="M887 249h2v2h2v12h2v1.9h2v1.9h2v4.1h-2v4.2h-2v3.8h-2v1.9h-2v2.2h-2v-2.2h-2v-1.9h-2v-3.8h-2v-4.2h-2v-4.1h2v-1.9h2v-1.9h2v-12h2z" fill="#00ff00"/>
<path d="M949 249h2v2h2v12h2v1.9h2v1.9h2v4.1h-2v4.2h-2v3.8h-2v1.9h-2v2.2h-2v-2.2h-2v-1.9h-2v-3.8h-2v-4.2h-2v-4.1h2v-1.9h2v-1.9h2v-12h2z" fill="#00ff00"/>
<path d="M1015 249h2v2h2v12h2v1.9h2v1.9h2v4.1h-2v4.2h-2v3.8h-2v1.9h-2v2.2h-2v-2.2h-2v-1.9h-2v-3.8h-2v-4.2h-2v-4.1h2v-1.9h2v-1.9h2v-12h2z" fill="#00ff00"/>
<path d="M1075 249h2v2h2v12h2v1.9h2v1.9h2v4.1h-2v4.2h-2v3.8h-2v1.9h-2v2.2h-2v-2.2h-2v-1.9h-2v-3.8h-2v-4.2h-2v-4.1h2v-1.9h2v-1.9h2v-12h2z" fill="#00ff00"/>
<path d="M1137 249h2v2h2v12h2v1.9h2v1.9h2v4.1h-2v4.2h-2v3.8h-2v1.9h-2v2.2h-2v-2.2h-2v-1.9h-2v-3.8h-2v-4.2h-2v-4.1h2v-1.9h2v-1.9h2v-12h2z" fill="#00ff00"/>
<path d="M1195 249h2v2h2v12h2v1.9h2v1.9h2v4.1h-2v4.2h-2v3.8h-2v1.9h-2v2.2h-2v-2.2h-2v-1.9h-2v-3.8h-2v-4.2h-2v-4.1h2v-1.9h2v-1.9h2v-12h2z" fill="#00ff00"/>
<path d="M1253 249h2v2h2v12h2v1.9h2v1.9h2v4.1h-2v4.2h-2v3.8h-2v1.9h-2v2.2h-2v-2.2h-2v-1.9h-2v-3.8h-2v-4.2h-2v-4.1h2v-1.9h2v-1.9h2v-12h2z" fill="#00ff00"/>
<path d="M1311 249h2v2h2v12h2v1.9h2v1.9h2v4.1h-2v4.2h-2v3.8h-2v1.9h-2v2.2h-2v-2.2h-2v-1.9h-2v-3.8h-2v-4.2h-2v-4.1h2v-1.9h2v-1.9h2v-12h2z" fill="#00ff00"/>
<path d="M1367 249h2v2h2v12h2v1.9h2v1.9h2v4.1h-2v4.2h-2v3.8h-2v1.9h-2v2.2h-2v-2.2h-2v-1.9h-2v-3.8h-2v-4.2h-2v-4.1h2v-1.9h2v-1.9h2v-12h2z" fill="#00ff00"/>
<path d="M1423 249h2v2h2v12h2v1.9h2v1.9h2v4.1h-2v4.2h-2v3.8h-2v1.9h-2v2.2h-2v-2.2h-2v-1.9h-2v-3.8h-2v-4.2h-2v-4.1h2v-1.9h2v-1.9h2v-12h2z" fill="#00ff00"/>
<path d="M1477 249h2v2h2v12h2v1.9h2v1.9h2v4.1h-2v4.2h-2v3.8h-2v1.9h-2v2.2h-2v-2.2h-2v-1.9h-2v-3.8h-2v-4.2h-2v-4.1h2v-1.9h2v-1.9h2v-12h2z" fill="#00ff00"/>
<line x1="0" y1="814.2" x2="1589" y2="814.2" stroke="#800000" stroke-width="2.2"/>
<line x1="0" y1="1028.1" x2="1589" y2="1028.1" stroke="#800000" stroke-width="2.2"/>
<line x1="4.1" y1="1028" x2="4.1" y2="1056" stroke="#800000" stroke-width="2"/>
<line x1="1512.1" y1="3" x2="1512.1" y2="1056" stroke="#800000" stroke-width="2.2"/>
<rect x="1514.1" y="816.3" width="80" height="210.6" fill="none" stroke="#800000" stroke-width="2"/>
<rect x="1515.5" y="990.5" width="60.5" height="29.5" fill="none" stroke="#800000" stroke-width="2"/>
<path d="M1512.1 76h11M1512.1 94h3M1512.1 117.3h7M1512.1 139.5h3M1512.1 158h11M1512.1 176h3M1512.1 199.3h7M1512.1 221.5h3M1512.1 240h11M1512.1 258h3M1512.1 281.3h7M1512.1 303.5h3M1512.1 320h11M1512.1 338h3M1512.1 361.3h7M1512.1 383.5h3M1512.1 402h11M1512.1 420h3M1512.1 443.3h7M1512.1 465.5h3M1512.1 484h11M1512.1 502h3M1512.1 525.3h7M1512.1 547.5h3M1512.1 564h11M1512.1 582h3M1512.1 605.3h7M1512.1 627.5h3M1512.1 646h11M1512.1 664h3M1512.1 687.3h7M1512.1 709.5h3M1512.1 728h11M1512.1 746h3M1512.1 769.3h7M1512.1 791.5h3M1512.1 862.3h10M1512.1 942.2h10M1512.1 901.5h6" stroke="#800000" stroke-width="2" fill="none"/>
<path d="M173.7 1028V1056M280 1028V1056M439.9 1028V1056M626.2 1028V1056M804 1028V1056M924.1 1028V1056M1101.9 1028V1056M1279.7 1028V1056M1456.7 1028V1056M200 1028v7M227.8 1028v7M254 1028v7M319.7 1028v7M360 1028v7M400 1028v7M485.7 1028v7M533.6 1028v7M580 1028v7M669.5 1028v7M716 1028v7M760 1028v7M833.8 1028v7M863.7 1028v7M893.4 1028v7M967.7 1028v7M1013.7 1028v7M1058.3 1028v7M1191.6 1028v7M1235.7 1028v7M1323.8 1028v7M1367.8 1028v7M1411.9 1028v7M1147 1028v7" stroke="#800000" stroke-width="2" fill="none"/>
<path d="M1488.2 14.2h13.8v13.6h-13.8zM1492.6 14.2v-4h13.4v14h-4" fill="none" stroke="#900000" stroke-width="2"/>
<text x="365" y="28.6" fill="#ffffff" font-size="24.6" font-family="Liberation Sans, sans-serif" textLength="109" lengthAdjust="spacingAndGlyphs" text-anchor="start">MA20:3.27</text>
<text x="511" y="28.6" fill="#ffff00" font-size="24.6" font-family="Liberation Sans, sans-serif" textLength="110.7" lengthAdjust="spacingAndGlyphs" text-anchor="start">MA40:3.33</text>
<text x="657" y="28.6" fill="#ff00ff" font-size="24.6" font-family="Liberation Sans, sans-serif" textLength="110" lengthAdjust="spacingAndGlyphs" text-anchor="start">MA60:3.35</text>
<path d="M485 5h2v18.5h4l-5 9l-5-9h4z" fill="#00ffff"/>
<path d="M631 5h2v18.5h4l-5 9l-5-9h4z" fill="#00ffff"/>
<path d="M777.2 5h2v18.5h4l-5 9l-5-9h4z" fill="#00ffff"/>
<text x="220.8" y="67.3" fill="#ffffff" font-size="24.6" font-family="Liberation Sans, sans-serif" textLength="44" lengthAdjust="spacingAndGlyphs" text-anchor="start">4.28</text>
<text x="31.5" y="668.6" fill="#ffffff" font-size="24.6" font-family="Liberation Sans, sans-serif" textLength="44" lengthAdjust="spacingAndGlyphs" text-anchor="start">2.78</text>
<path d="M192 56V43.5l5 2M193 47.5l9 2l6 4l6 2.5" fill="none" stroke="#ffffff" stroke-width="1.6"/>
<path d="M30 662H8M13 657l-5.5 5l5.5 5" fill="none" stroke="#ffffff" stroke-width="1.8"/>
<text x="3.8" y="838.8" fill="#ffffff" font-size="24.6" font-family="Liberation Sans, sans-serif" textLength="156.5" lengthAdjust="spacingAndGlyphs" text-anchor="start">VOL2(5,10,20)</text>
<text x="171.6" y="838.8" fill="#ffffff" font-size="24.6" font-family="Liberation Sans, sans-serif" textLength="219.6" lengthAdjust="spacingAndGlyphs" text-anchor="start">VOLUME:194466.19</text>
<text x="426.6" y="838.8" fill="#ffffff" font-size="24.6" font-family="Liberation Sans, sans-serif" textLength="166.9" lengthAdjust="spacingAndGlyphs" text-anchor="start">MA1:135881.92</text>
<text x="629.2" y="838.8" fill="#ffff00" font-size="24.6" font-family="Liberation Sans, sans-serif" textLength="166" lengthAdjust="spacingAndGlyphs" text-anchor="start">MA2:132218.44</text>
<text x="831.2" y="838.8" fill="#ff00ff" font-size="24.6" font-family="Liberation Sans, sans-serif" textLength="166.2" lengthAdjust="spacingAndGlyphs" text-anchor="start">MA3:111512.73</text>
<path d="M401 816h2v18.5h4l-5 9l-5-9h4z" fill="#00ffff"/>
<path d="M603 816h2v18.5h4l-5 9l-5-9h4z" fill="#00ffff"/>
<path d="M805 842.5h2v-18.5h4l-5-9l-5 9h4z" fill="#ff4040"/>
<path d="M1007 842.5h2v-18.5h4l-5-9l-5 9h4z" fill="#ff4040"/>
<text x="1546.5" y="85.1" fill="#cc0000" font-size="24.6" font-family="Liberation Sans, sans-serif" textLength="45" lengthAdjust="spacingAndGlyphs" text-anchor="start">4.20</text>
<text x="1546.5" y="167.1" fill="#cc0000" font-size="24.6" font-family="Liberation Sans, sans-serif" textLength="45" lengthAdjust="spacingAndGlyphs" text-anchor="start">4.00</text>
<text x="1546.5" y="249.1" fill="#cc0000" font-size="24.6" font-family="Liberation Sans, sans-serif" textLength="45" lengthAdjust="spacingAndGlyphs" text-anchor="start">3.80</text>
<text x="1546.5" y="329.1" fill="#cc0000" font-size="24.6" font-family="Liberation Sans, sans-serif" textLength="45" lengthAdjust="spacingAndGlyphs" text-anchor="start">3.60</text>
<text x="1546.5" y="411.1" fill="#cc0000" font-size="24.6" font-family="Liberation Sans, sans-serif" textLength="45" lengthAdjust="spacingAndGlyphs" text-anchor="start">3.40</text>
<text x="1546.5" y="493.1" fill="#cc0000" font-size="24.6" font-family="Liberation Sans, sans-serif" textLength="45" lengthAdjust="spacingAndGlyphs" text-anchor="start">3.20</text>
<text x="1546.5" y="573.1" fill="#cc0000" font-size="24.6" font-family="Liberation Sans, sans-serif" textLength="45" lengthAdjust="spacingAndGlyphs" text-anchor="start">3.00</text>
<text x="1546.5" y="655.1" fill="#cc0000" font-size="24.6" font-family="Liberation Sans, sans-serif" textLength="45" lengthAdjust="spacingAndGlyphs" text-anchor="start">2.80</text>
<text x="1546.5" y="737.1" fill="#cc0000" font-size="24.6" font-family="Liberation Sans, sans-serif" textLength="45" lengthAdjust="spacingAndGlyphs" text-anchor="start">2.60</text>
<text x="1524.5" y="871.4" fill="#cc0000" font-size="24.6" font-family="Liberation Sans, sans-serif" textLength="69" lengthAdjust="spacingAndGlyphs" text-anchor="start">20000</text>
<text x="1524.5" y="951.3" fill="#cc0000" font-size="24.6" font-family="Liberation Sans, sans-serif" textLength="69" lengthAdjust="spacingAndGlyphs" text-anchor="start">10000</text>
<text x="1517.4" y="1012.8" fill="#cc0000" font-size="24.6" font-family="Liberation Sans, sans-serif" textLength="54" lengthAdjust="spacingAndGlyphs" text-anchor="start">X100</text>
<text x="8.5" y="1051.6" fill="#cc0000" font-size="24.6" font-family="Liberation Sans, sans-serif" textLength="51" lengthAdjust="spacingAndGlyphs" text-anchor="start">2003</text>
<text x="176.5" y="1051.6" fill="#cc0000" font-size="24.6" font-family="Liberation Sans, sans-serif" textLength="12.6" lengthAdjust="spacingAndGlyphs" text-anchor="start">1</text>
<text x="283.5" y="1051.6" fill="#cc0000" font-size="24.6" font-family="Liberation Sans, sans-serif" textLength="12.6" lengthAdjust="spacingAndGlyphs" text-anchor="start">2</text>
<text x="444" y="1051.6" fill="#cc0000" font-size="24.6" font-family="Liberation Sans, sans-serif" textLength="12.6" lengthAdjust="spacingAndGlyphs" text-anchor="start">3</text>
<text x="630" y="1051.6" fill="#cc0000" font-size="24.6" font-family="Liberation Sans, sans-serif" textLength="12.6" lengthAdjust="spacingAndGlyphs" text-anchor="start">4</text>
<text x="808" y="1051.6" fill="#cc0000" font-size="24.6" font-family="Liberation Sans, sans-serif" textLength="12.6" lengthAdjust="spacingAndGlyphs" text-anchor="start">5</text>
<text x="928" y="1051.6" fill="#cc0000" font-size="24.6" font-family="Liberation Sans, sans-serif" textLength="12.6" lengthAdjust="spacingAndGlyphs" text-anchor="start">6</text>
<text x="1106" y="1051.6" fill="#cc0000" font-size="24.6" font-family="Liberation Sans, sans-serif" textLength="12.6" lengthAdjust="spacingAndGlyphs" text-anchor="start">7</text>
<text x="1283.5" y="1051.6" fill="#cc0000" font-size="24.6" font-family="Liberation Sans, sans-serif" textLength="12.6" lengthAdjust="spacingAndGlyphs" text-anchor="start">8</text>
<text x="1459" y="1051.6" fill="#cc0000" font-size="24.6" font-family="Liberation Sans, sans-serif" textLength="12.6" lengthAdjust="spacingAndGlyphs" text-anchor="start">9</text>
<path d="M952.8 797h7.9v2h-7.9zM950.8 799h4v2h-4zM958.7 799h4v2h-4zM950.8 801h6v2h-6zM952.8 803h7.9v2h-7.9zM956.8 804.9h6v2h-6zM950.8 806.9h2v2h-2zM958.7 806.9h4v2h-4zM950.8 808.9h9.9v2h-9.9zM954.8 789h2.4v2h-2.4zM952.8 791h6.4v2h-6.4zM950.8 793h10.3v2h-10.3z" fill="#ff0000"/>
<ellipse cx="164.3" cy="935.9" rx="166.9" ry="107.6" fill="none" stroke="#ffff00" stroke-width="2"/>
<ellipse cx="568.2" cy="950.8" rx="126.5" ry="99.5" fill="none" stroke="#ffff00" stroke-width="2"/>
<ellipse cx="1203" cy="991.9" rx="103.2" ry="50.3" fill="none" stroke="#ffff00" stroke-width="2"/>
<line x1="810" y1="123" x2="804.1" y2="217.6" stroke="#ff80ff" stroke-width="1.8"/>
<polygon points="802,251.5 797.1,217.1 811.1,218" fill="#ff80ff"/>
<line x1="1245" y1="125.5" x2="1215.7" y2="241" stroke="#ff80ff" stroke-width="1.8"/>
<polygon points="1207.4,274 1209,239.3 1222.5,242.8" fill="#ff80ff"/>
<line x1="206.4" y1="701" x2="179.9" y2="790.4" stroke="#ff80ff" stroke-width="1.8"/>
<polygon points="170.2,823 173.2,788.4 186.6,792.4" fill="#ff80ff"/>
<line x1="482.4" y1="703" x2="511.9" y2="823" stroke="#ff80ff" stroke-width="1.8"/>
<polygon points="520,856 505.1,824.7 518.7,821.3" fill="#ff80ff"/>
<line x1="1087" y1="682" x2="1175.8" y2="903.4" stroke="#ff80ff" stroke-width="1.8"/>
<polygon points="1188.5,935 1169.3,906.1 1182.3,900.8" fill="#ff80ff"/>
<text x="5" y="28.5" fill="#ffffff" font-size="24" font-family="Liberation Sans, Noto Sans CJK SC, sans-serif" textLength="96" lengthAdjust="spacingAndGlyphs" text-anchor="start">中国石化</text>
<text x="110" y="28.5" fill="#ffffff" font-size="24" font-family="Liberation Sans, Noto Sans CJK SC, sans-serif" textLength="47" lengthAdjust="spacingAndGlyphs" text-anchor="start">日线</text>
<text x="162.5" y="28.5" fill="#ffffff" font-size="24" font-family="Liberation Sans, Noto Sans CJK SC, sans-serif" textLength="72" lengthAdjust="spacingAndGlyphs" text-anchor="start">前复权</text>
<text x="276" y="28.5" fill="#ffffff" font-size="24" font-family="Liberation Sans, Noto Sans CJK SC, sans-serif" textLength="74" lengthAdjust="spacingAndGlyphs" text-anchor="start">季均线</text>
<text x="102.5" y="28.5" fill="#ffffff" font-size="22" font-family="Liberation Sans, sans-serif" text-anchor="start">(</text>
<text x="158" y="28.5" fill="#ffffff" font-size="22" font-family="Liberation Sans, sans-serif" text-anchor="start">.</text>
<text x="235" y="28.5" fill="#ffffff" font-size="22" font-family="Liberation Sans, sans-serif" text-anchor="start">)</text>
<text x="251.7" y="28.6" fill="#ffffff" font-size="24.6" font-family="Liberation Sans, sans-serif" textLength="24" lengthAdjust="spacingAndGlyphs" text-anchor="start" stroke="#fff" stroke-width="0.5">MA</text>
<text x="60.5" y="1051.6" fill="#cc0000" font-size="24" font-family="Liberation Sans, Noto Sans CJK SC, sans-serif" text-anchor="start">年</text>
<text x="1532" y="1052" fill="#ffffff" font-size="24" font-family="Liberation Sans, Noto Sans CJK SC, sans-serif" textLength="46" lengthAdjust="spacingAndGlyphs" text-anchor="start">日线</text>
<text x="420" y="59" fill="#ff0a82" font-size="30" font-weight="bold" font-family="Liberation Serif, Noto Serif CJK SC, serif" textLength="297" lengthAdjust="spacing" text-anchor="start">虚浪反弹不创新高，</text>
<text x="420" y="99" fill="#ff0a82" font-size="30" font-weight="bold" font-family="Liberation Serif, Noto Serif CJK SC, serif" textLength="300" lengthAdjust="spacing" text-anchor="start">不创新高就是不妙。</text>
<text x="758" y="115" fill="#ff0a82" font-size="30" font-weight="bold" font-family="Liberation Serif, Noto Serif CJK SC, serif" textLength="96" lengthAdjust="spacing" text-anchor="start">季价压</text>
<text x="1021" y="107" fill="#ff0a82" font-size="30" font-weight="bold" font-family="Liberation Serif, Noto Serif CJK SC, serif" textLength="436" lengthAdjust="spacing" text-anchor="start">季压辐射带阻碍了股价的反弹</text>
<text x="155" y="691" fill="#ff0a82" font-size="30" font-weight="bold" font-family="Liberation Serif, Noto Serif CJK SC, serif" textLength="506" lengthAdjust="spacing" text-anchor="start">有量支持的实浪和无量支持的虚浪</text>
<text x="985" y="669" fill="#ff0a82" font-size="30" font-weight="bold" font-family="Liberation Serif, Noto Serif CJK SC, serif" textLength="270" lengthAdjust="spacing" text-anchor="start">无量反弹遇阻回落</text>
<rect x="0" y="0" width="1589" height="3" fill="#484848"/><rect x="0" y="0" width="3" height="1056" fill="#484848"/>
<rect x="0" y="0" width="1589" height="1.3" fill="#9a9a9a"/><rect x="0" y="0" width="1.3" height="1056" fill="#8c8c8c"/></svg></body></html>
